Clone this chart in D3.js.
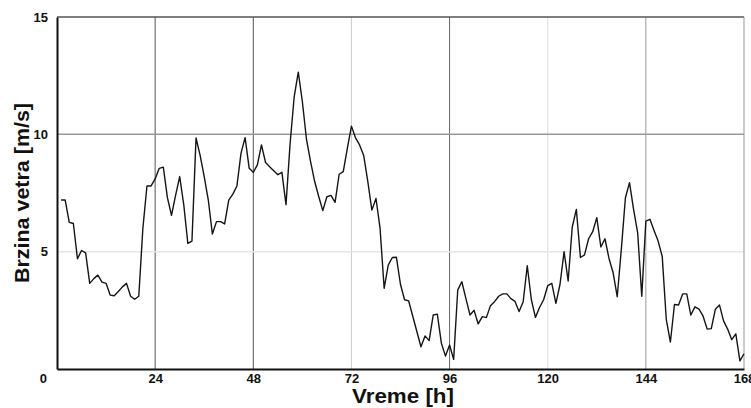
<!DOCTYPE html>
<html>
<head>
<meta charset="utf-8">
<script src="https://cdn.jsdelivr.net/npm/d3@7"></script>
<style>
  body { margin: 0; background: #fff; }
  svg text { font-family: "Liberation Sans", Arial, sans-serif; font-weight: bold; }
</style>
</head>
<body>
<svg id="chart" width="751" height="408"></svg>
<script>
// wind speed, hourly, h = 1..168
const hours = d3.range(1, 169);
const speed = [
  7.2, 7.2, 6.25, 6.2, 4.7, 5.05, 4.95, 3.65, 3.85, 4.0,
  3.7, 3.65, 3.15, 3.12, 3.3, 3.5, 3.65, 3.1, 2.97, 3.1,
  6.0, 7.8, 7.8, 8.1, 8.55, 8.6, 7.3, 6.55, 7.4, 8.2,
  7.0, 5.35, 5.45, 9.85, 9.1, 8.2, 7.2, 5.75, 6.28, 6.28,
  6.18, 7.2, 7.45, 7.8, 9.2, 9.86, 8.55, 8.38, 8.7, 9.55,
  8.8, 8.62, 8.45, 8.28, 8.38, 7.0, 9.6, 11.6, 12.65, 11.4,
  9.8, 8.85, 8.0, 7.35, 6.75, 7.34, 7.4, 7.1, 8.3, 8.41,
  9.4, 10.35, 9.85, 9.55, 9.1, 8.0, 6.77, 7.27, 6.0, 3.44,
  4.43, 4.75, 4.76, 3.6, 2.95, 2.9, 2.25, 1.6, 0.95, 1.41,
  1.21, 2.3, 2.34, 1.1, 0.55, 1.02, 0.41, 3.37, 3.72, 3.0,
  2.3, 2.5, 1.92, 2.23, 2.19, 2.7, 2.87, 3.1, 3.2, 3.2,
  3.0, 2.88, 2.45, 2.87, 4.4, 2.95, 2.2, 2.62, 2.95, 3.55,
  3.65, 2.8, 3.6, 5.0, 3.75, 6.05, 6.8, 4.75, 4.86, 5.55,
  5.85, 6.45, 5.2, 5.55, 4.7, 4.1, 3.08, 5.1, 7.3, 7.94,
  6.8, 5.8, 3.1, 6.3, 6.38, 5.9, 5.45, 4.8, 2.1, 1.15,
  2.75, 2.73, 3.2, 3.2, 2.3, 2.65, 2.55, 2.25, 1.7, 1.72,
  2.55, 2.73, 2.05, 1.7, 1.25, 1.5, 0.35, 0.65
];
// the 0 at the corner is shared by both axes, it comes from yTicks
const xTicks = [24, 48, 72, 96, 120, 144, 168];
const yTicks = [0, 5, 10, 15];
const xLabel = "Vreme [h]";
const yLabel = "Brzina vetra [m/s]";

const margin = {top: 17, right: 7, bottom: 39, left: 57};
const width = 751, height = 408;

const svg = d3.select('#chart');

const x = d3.scaleLinear().domain([0, 168]).range([margin.left, width - margin.right]);
const y = d3.scaleLinear().domain([0, 15]).range([height - margin.bottom, margin.top]);

// grid lines (the picture has them in different greys)
const vGridColor = {24: '#555', 48: '#555', 72: '#ccc', 96: '#666', 120: '#ddd', 144: '#999'};
svg.append('g')
  .selectAll('line')
  .data(xTicks.filter(d => d < 168))
  .enter().append('line')
  .attr('x1', d => x(d)).attr('x2', d => x(d))
  .attr('y1', y(15)).attr('y2', y(0))
  .attr('stroke', d => vGridColor[d])
  .attr('stroke-width', 1);

const hGridColor = {5: '#e6e6e6', 10: '#999'};
svg.append('g')
  .selectAll('line')
  .data(yTicks.filter(d => d > 0 && d < 15))
  .enter().append('line')
  .attr('x1', x(0)).attr('x2', x(168))
  .attr('y1', d => y(d)).attr('y2', d => y(d))
  .attr('stroke', d => hGridColor[d])
  .attr('stroke-width', 1.5);

// frame
svg.append('line').attr('x1', x(0)).attr('x2', x(168)).attr('y1', y(15)).attr('y2', y(15))
  .attr('stroke', '#555').attr('stroke-width', 1.5);
svg.append('line').attr('x1', x(168)).attr('x2', x(168)).attr('y1', y(15)).attr('y2', y(0))
  .attr('stroke', '#999').attr('stroke-width', 1);

// data line
const line = d3.line()
  .x((d, i) => x(hours[i]))
  .y(d => y(d));

svg.append('path')
  .datum(speed)
  .attr('fill', 'none')
  .attr('stroke', '#151515')
  .attr('stroke-width', 1.4)
  .attr('stroke-linejoin', 'round')
  .attr('d', line);

// axes
const xAxis = svg.append('g')
  .attr('transform', `translate(0,${y(0)})`)
  .call(d3.axisBottom(x).tickValues(xTicks).tickSize(0).tickPadding(5));
xAxis.select('.domain').attr('stroke', '#111').attr('stroke-width', 2);
xAxis.selectAll('text').attr('font-size', 13).attr('fill', '#111');

const yAxis = svg.append('g')
  .attr('transform', `translate(${x(0)},0)`)
  .call(d3.axisLeft(y).tickValues(yTicks).tickSize(0).tickPadding(9));
yAxis.select('.domain').attr('stroke', '#111').attr('stroke-width', 2);
yAxis.selectAll('text').attr('font-size', 13).attr('fill', '#111');
// corner zero sits lower, between the two axes
yAxis.selectAll('.tick').filter(d => d === 0).select('text')
  .attr('dy', '1.05em').attr('x', -10);

// labels
svg.append('text')
  .attr('x', 403).attr('y', 403)
  .attr('text-anchor', 'middle')
  .attr('font-size', 20)
  .attr('textLength', 102)
  .attr('lengthAdjust', 'spacingAndGlyphs')
  .attr('fill', '#111')
  .text(xLabel);

svg.append('text')
  .attr('transform', 'translate(29,193) rotate(-90)')
  .attr('text-anchor', 'middle')
  .attr('font-size', 20)
  .attr('textLength', 180)
  .attr('lengthAdjust', 'spacingAndGlyphs')
  .attr('fill', '#111')
  .text(yLabel);
</script>
</body>
</html>
